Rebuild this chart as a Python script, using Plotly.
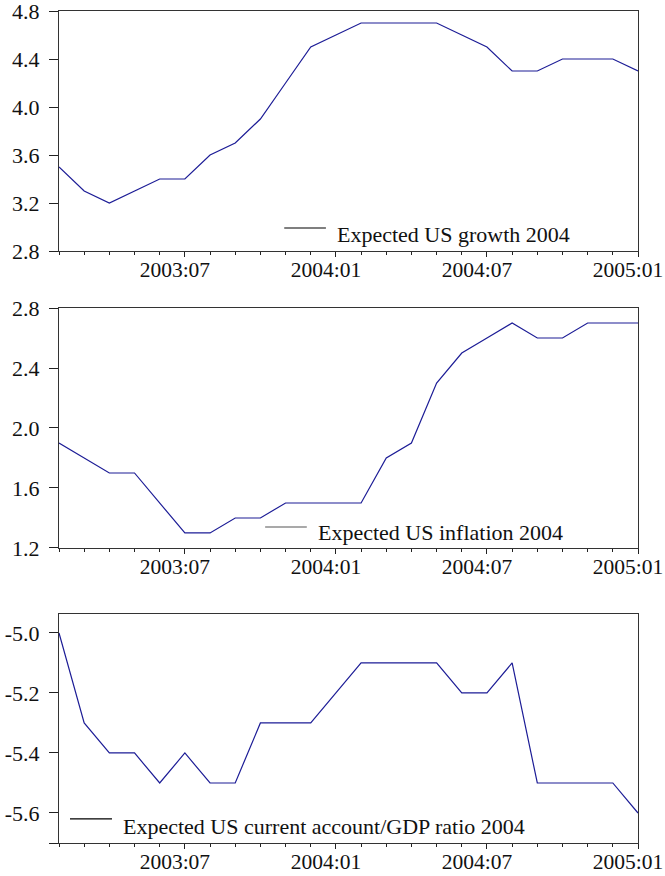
import plotly.graph_objects as go

months = ["2003:02", "2003:03", "2003:04", "2003:05", "2003:06", "2003:07",
          "2003:08", "2003:09", "2003:10", "2003:11", "2003:12", "2004:01",
          "2004:02", "2004:03", "2004:04", "2004:05", "2004:06", "2004:07",
          "2004:08", "2004:09", "2004:10", "2004:11", "2004:12", "2005:01"]

growth = [3.5, 3.3, 3.2, 3.3, 3.4, 3.4, 3.6, 3.7, 3.9, 4.2, 4.5, 4.6,
          4.7, 4.7, 4.7, 4.7, 4.6, 4.5, 4.3, 4.3, 4.4, 4.4, 4.4, 4.3]
inflation = [1.9, 1.8, 1.7, 1.7, 1.5, 1.3, 1.3, 1.4, 1.4, 1.5, 1.5, 1.5,
             1.5, 1.8, 1.9, 2.3, 2.5, 2.6, 2.7, 2.6, 2.6, 2.7, 2.7, 2.7]
current_account = [-5.0, -5.3, -5.4, -5.4, -5.5, -5.4, -5.5, -5.5, -5.3, -5.3, -5.3, -5.2,
                   -5.1, -5.1, -5.1, -5.1, -5.2, -5.2, -5.1, -5.5, -5.5, -5.5, -5.5, -5.6]

labels = ["Expected US growth 2004",
          "Expected US inflation 2004",
          "Expected US current account/GDP ratio 2004"]

x_tick_labels = ["2003:07", "2004:01", "2004:07", "2005:01"]

y_ticks = [[2.8, 3.2, 3.6, 4.0, 4.4, 4.8],
           [1.2, 1.6, 2.0, 2.4, 2.8],
           [-5.7, -5.6, -5.4, -5.2, -5.0]]
y_tick_text = [["2.8", "3.2", "3.6", "4.0", "4.4", "4.8"],
               ["1.2", "1.6", "2.0", "2.4", "2.8"],
               ["", "-5.6", "-5.4", "-5.2", "-5.0"]]
y_ranges = [[2.8, 4.8], [1.2, 2.8], [-5.70, -4.937]]

domains = [[0.7115, 1.0], [0.3546, 0.6430], [0.0, 0.2752]]

# legend placement (axis-domain fractions)
leg = [dict(x0=0.389, x1=0.461, ly=0.096, tx=0.477, ty=0.067, lc="#000000"),
       dict(x0=0.356, x1=0.428, ly=0.0875, tx=0.444, ty=0.0625, lc="#555555"),
       dict(x0=0.019, x1=0.0915, ly=0.105, tx=0.107, ty=0.070, lc="#000000")]

FONT = "Liberation Serif, Times New Roman, serif"
FS = 22
LINE = "#1c1c96"

x = list(range(len(months)))
tickvals = [months.index(m) for m in x_tick_labels]

fig = go.Figure()
series = [growth, inflation, current_account]
for i, ys in enumerate(series):
    n = "" if i == 0 else str(i + 1)
    fig.add_trace(go.Scatter(x=x, y=ys, mode="lines",
                             line=dict(color=LINE, width=1.2),
                             xaxis="x" + n, yaxis="y" + n,
                             showlegend=False, hoverinfo="skip"))
    fig.layout["xaxis" + n] = dict(
        domain=[0, 1], anchor="y" + n, range=[0, len(months) - 1],
        tickvals=tickvals, ticktext=x_tick_labels,
        ticks="outside", ticklen=5, tickcolor="#222",
        ticklabeloverflow="allow", automargin=False,
        ticklabelshift=-10, ticklabelstandoff=-6,
        minor=dict(dtick=1, tick0=0, ticks="outside", ticklen=3, tickcolor="#222"),
        showline=True, linecolor="#333", linewidth=1, mirror=True,
        showgrid=False, zeroline=False,
        tickfont=dict(family=FONT, size=21.5, color="#111"))
    fig.layout["yaxis" + n] = dict(
        domain=domains[i], anchor="x" + n, range=y_ranges[i],
        tickvals=y_ticks[i], ticktext=y_tick_text[i],
        ticks="outside", ticklen=9, tickcolor="#222",
        ticklabelstandoff=5,
        ticklabeloverflow="allow", automargin=False,
        showline=True, linecolor="#333", linewidth=1, mirror=True,
        showgrid=False, zeroline=False,
        tickfont=dict(family=FONT, size=FS, color="#111"))
    L = leg[i]
    fig.add_shape(type="line", xref="x" + n + " domain", yref="y" + n + " domain",
                  x0=L["x0"], x1=L["x1"], y0=L["ly"], y1=L["ly"],
                  line=dict(color=L["lc"], width=1.2))
    fig.add_annotation(text=labels[i], xref="x" + n + " domain", yref="y" + n + " domain",
                       x=L["tx"], y=L["ty"], xanchor="left", yanchor="middle",
                       showarrow=False, font=dict(family=FONT, size=FS, color="#111"))

fig.update_layout(width=665, height=876,
                  margin=dict(l=59, r=27, t=11, b=33, autoexpand=False),
                  paper_bgcolor="white", plot_bgcolor="white",
                  showlegend=False)

fig.write_html("out.html")
